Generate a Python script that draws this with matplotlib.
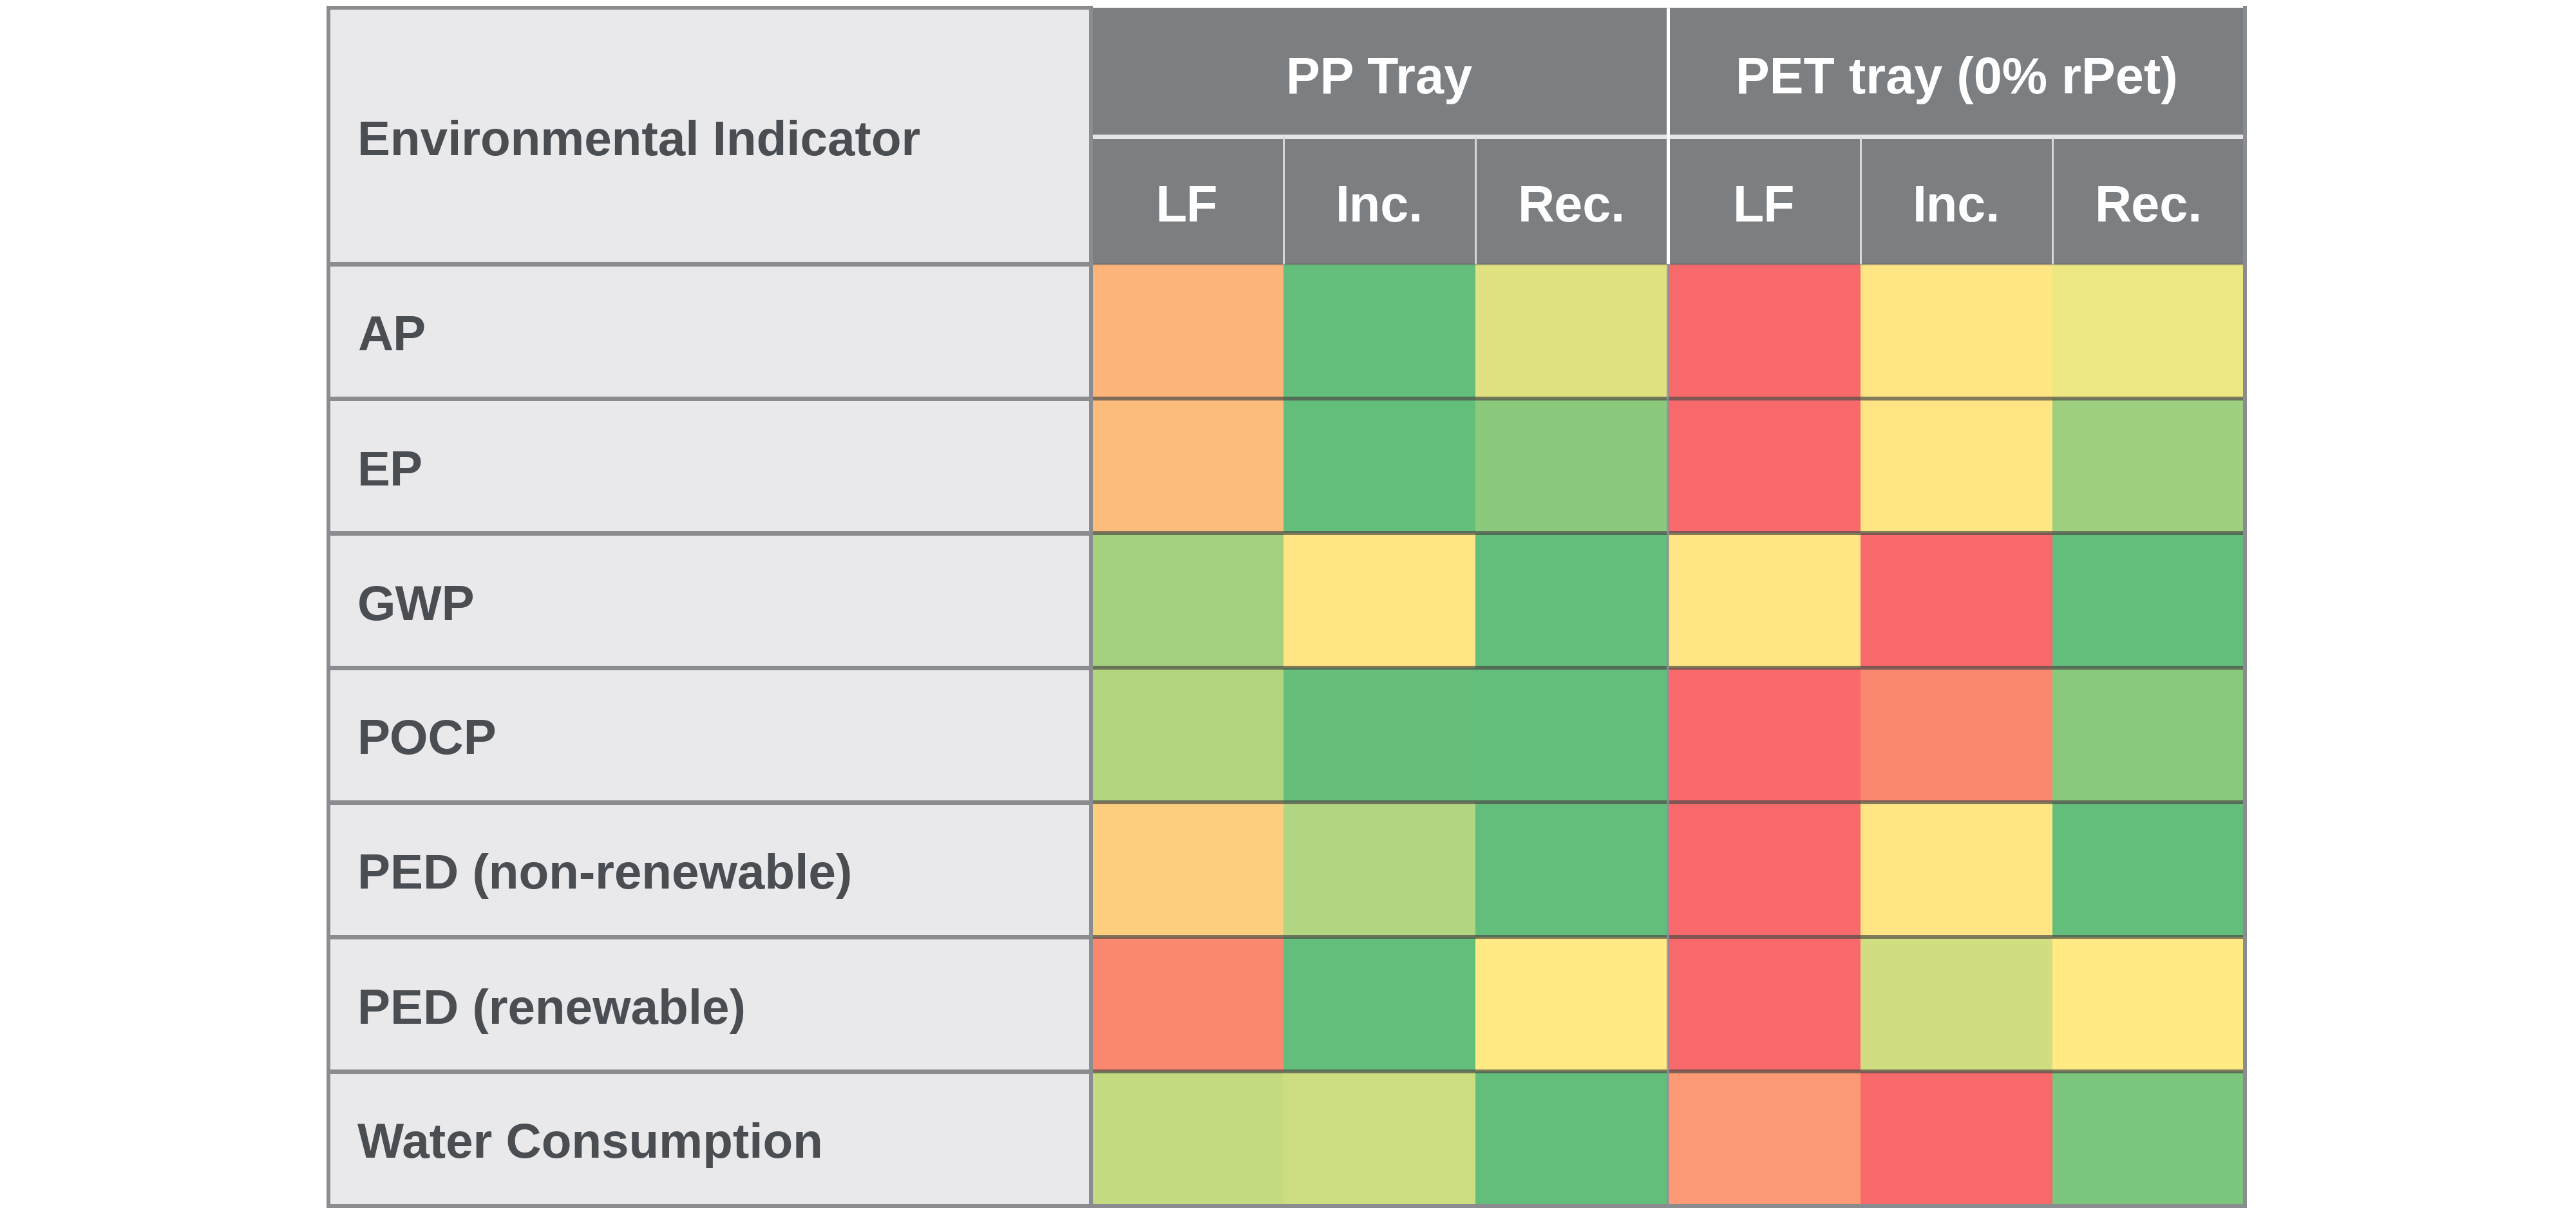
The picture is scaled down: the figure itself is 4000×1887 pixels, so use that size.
import numpy as np
import matplotlib
matplotlib.use("Agg")
import matplotlib.pyplot as plt
from matplotlib.colors import LinearSegmentedColormap, Normalize
from matplotlib.patches import Rectangle

# ---------------- data ----------------
indicators = ["AP", "EP", "GWP", "POCP", "PED (non-renewable)",
              "PED (renewable)", "Water Consumption"]
groups = ["PP Tray", "PET tray (0% rPet)"]
scenarios = ["LF", "Inc.", "Rec."]
corner_label = "Environmental Indicator"

# relative impact score: 0 = best (green), 0.5 = middle (yellow), 1 = worst (red)
pp_lf   = [0.71, 0.68, 0.21, 0.26, 0.61, 0.88, 0.31]
pp_inc  = [0.00, 0.00, 0.52, 0.01, 0.25, 0.00, 0.34]
pp_rec  = [0.40, 0.13, 0.00, 0.00, 0.00, 0.50, 0.00]
pet_lf  = [1.00, 1.00, 0.52, 1.00, 1.00, 1.00, 0.81]
pet_inc = [0.52, 0.52, 1.00, 0.88, 0.52, 0.35, 1.00]
pet_rec = [0.44, 0.19, 0.00, 0.12, 0.00, 0.50, 0.08]

values = np.array([pp_lf, pp_inc, pp_rec, pet_lf, pet_inc, pet_rec]).T

# ---------------- style / layout (pixel coordinates) ----------------
W, H = 4000, 1887
left, label_right, right = 510, 1694, 3486
top, head_mid, head_bot, bottom = 12, 212, 410, 1873

cmap = LinearSegmentedColormap.from_list("rag", ["#63BE7B", "#FFEB84", "#F8696B"])
norm = Normalize(0, 1)

label_bg = "#e9e9ec"
header_bg = "#7c7f82"
border = "#8a8c8f"
text_dark = "#4a4d52"
PX = 72 / 100  # points per pixel

plt.rcParams["font.family"] = ["Liberation Sans", "DejaVu Sans"]

fig = plt.figure(figsize=(W / 100, H / 100), dpi=100)
fig.patch.set_facecolor("white")
ax = fig.add_axes([0, 0, 1, 1])
ax.set_xlim(0, W)
ax.set_ylim(H, 0)
ax.axis("off")

# backgrounds
ax.add_patch(Rectangle((left, top), label_right - left, bottom - top,
                       facecolor=label_bg, edgecolor="none", zorder=0))
ax.add_patch(Rectangle((label_right, top), right - label_right, head_bot - top,
                       facecolor=header_bg, edgecolor="none", zorder=0))

# coloured cells
n_rows, n_cols = values.shape
x_edges = np.linspace(label_right, right, n_cols + 1)
y_edges = np.linspace(head_bot, bottom, n_rows + 1)
ax.pcolormesh(x_edges, y_edges, values, cmap=cmap, norm=norm,
              shading="flat", edgecolors="none", zorder=1)

# horizontal lines
for y in y_edges[:-1]:
    ax.plot([left, label_right], [y, y], color=border, lw=7 * PX, zorder=3,
            solid_capstyle="butt")
for y in y_edges[1:-1]:
    ax.plot([label_right, right], [y, y], color="#4d4d48", alpha=0.7,
            lw=6 * PX, zorder=3, solid_capstyle="butt")
ax.plot([label_right, right], [head_bot, head_bot], color="#6e6a66",
        alpha=0.6, lw=3 * PX, zorder=3, solid_capstyle="butt")
ax.plot([left, right], [bottom, bottom], color=border, lw=6 * PX, zorder=4,
        solid_capstyle="projecting")
ax.plot([left, label_right], [top, top], color=border, lw=6 * PX, zorder=4,
        solid_capstyle="projecting")

# header internal lines
ax.plot([label_right, right], [head_mid, head_mid], color="#e4e5e7",
        lw=7 * PX, zorder=3, solid_capstyle="butt")
group_x = x_edges[3]
for i, xe in enumerate(x_edges[1:-1], start=1):
    if i == 3:
        continue
    ax.plot([xe, xe], [head_mid, head_bot], color="#d6d7d9", lw=3 * PX,
            zorder=3, solid_capstyle="butt")
ax.plot([group_x, group_x], [top, head_bot], color="white", lw=5 * PX,
        zorder=4, solid_capstyle="butt")
ax.plot([group_x, group_x], [head_bot, bottom], color="#8a90a0", alpha=0.8,
        lw=4 * PX, zorder=4, solid_capstyle="butt")

# vertical borders
for xv in (left, label_right, right):
    ax.plot([xv, xv], [top, bottom], color=border, lw=6 * PX, zorder=4,
            solid_capstyle="projecting")

# texts
FS = 55
ax.text(left + 45, (top + head_bot) / 2 + 30, corner_label, color=text_dark,
        fontsize=FS, fontweight="bold", ha="left", va="baseline", zorder=5)
for i, name in enumerate(indicators):
    yc = (y_edges[i] + y_edges[i + 1]) / 2
    ax.text(left + 45, yc + 30, name, color=text_dark, fontsize=FS,
            fontweight="bold", ha="left", va="baseline", zorder=5)

for g, gname in enumerate(groups):
    xc = (x_edges[3 * g] + x_edges[3 * g + 3]) / 2
    ax.text(xc, (top + head_mid) / 2 + 33, gname, color="white", fontsize=FS + 2,
            fontweight="bold", ha="center", va="baseline", zorder=5)
    for s, sname in enumerate(scenarios):
        k = 3 * g + s
        xs = (x_edges[k] + x_edges[k + 1]) / 2
        ax.text(xs, (head_mid + head_bot) / 2 + 33, sname, color="white",
                fontsize=FS + 2, fontweight="bold", ha="center", va="baseline",
                zorder=5)

fig.savefig("out.png", dpi=100, facecolor="white")
